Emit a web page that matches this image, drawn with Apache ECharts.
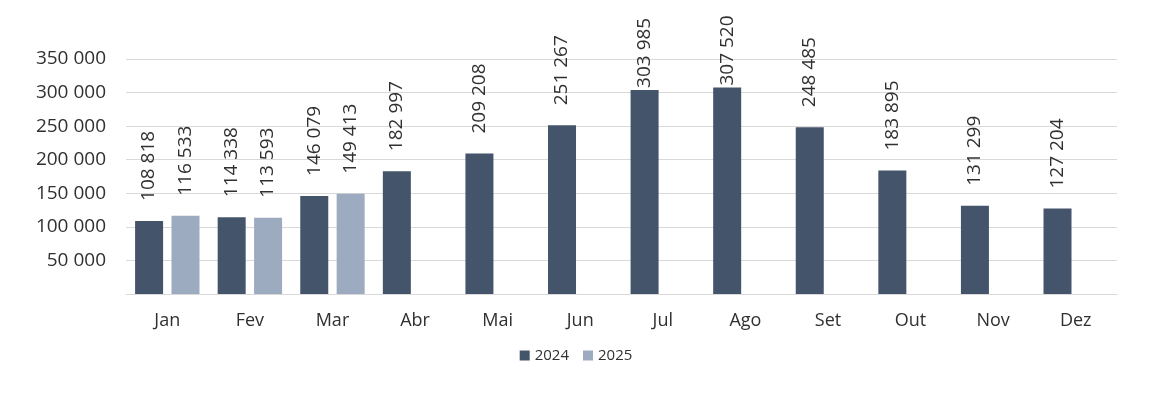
<!DOCTYPE html>
<html><head><meta charset="utf-8">
<script src="https://cdn.jsdelivr.net/npm/echarts@6/dist/echarts.min.js"></script>
<style>html,body{margin:0;padding:0;background:#fff}#c{width:1152px;height:394px}</style>
</head><body><div id="c"></div>
<script>
const categories = ['Jan','Fev','Mar','Abr','Mai','Jun','Jul','Ago','Set','Out','Nov','Dez'];
const values2024 = [108818,114338,146079,182997,209208,251267,303985,307520,248485,183895,131299,127204];
const values2025 = [116533,113593,149413,null,null,null,null,null,null,null,null,null];
const seriesNames = ['2024','2025'];

const fmt = v => String(v).replace(/\B(?=(\d{3})+(?!\d))/g, ' ');
const font = '"Open Sans", "Noto Sans", sans-serif';
const LABEL_SIZE = 19;
const LABEL_GAP = 20;
const TOP_LIMIT = 18;
const labelOpt = {
  show: true, position: 'top', rotate: 90, align: 'left', verticalAlign: 'middle',
  distance: LABEL_GAP, color: '#303030', fontSize: LABEL_SIZE, fontFamily: font,
  formatter: p => p.value == null ? '' : fmt(p.value)
};
const chart = echarts.init(document.getElementById('c'), null, {renderer: 'canvas'});
const option = {
  animation: false,
  grid: {left: 126, right: 35, top: 59, bottom: 100, containLabel: false},
  legend: {
    bottom: 26, left: 'center', itemWidth: 10, itemHeight: 10, itemGap: 14,
    textStyle: {color: '#303030', fontSize: 15, fontFamily: font},
    data: seriesNames.map(n => ({name: n, icon: 'rect'}))
  },
  xAxis: {
    type: 'category', data: categories,
    axisLine: {lineStyle: {color: '#d9d9d9', width: 1}},
    axisTick: {show: false},
    axisLabel: {color: '#303030', fontSize: 18, fontFamily: font, margin: 18}
  },
  yAxis: {
    type: 'value', min: 0, max: 350000, interval: 50000,
    axisLine: {show: false}, axisTick: {show: false},
    splitLine: {lineStyle: {color: '#d9d9d9', width: 1}},
    axisLabel: {color: '#303030', fontSize: 19, fontFamily: font, margin: 20,
      formatter: v => v === 0 ? '' : fmt(v)}
  },
  series: [
    {name: seriesNames[0], type: 'bar', data: values2024, barWidth: 28, barGap: '30%',
     itemStyle: {color: '#44546a'}, label: labelOpt},
    {name: seriesNames[1], type: 'bar', data: values2025, barWidth: 28, barGap: '30%',
     itemStyle: {color: '#9dabc0'}, label: labelOpt}
  ]
};
chart.setOption(option);

// keep rotated labels inside the chart area: shrink the gap when a label would cross the top
const ctx = document.createElement('canvas').getContext('2d');
ctx.font = LABEL_SIZE + 'px ' + font;
function fitData(values) {
  return values.map(v => {
    if (v == null) return v;
    const top = chart.convertToPixel({yAxisIndex: 0}, v);
    const len = ctx.measureText(fmt(v)).width;
    const room = top - len - TOP_LIMIT;
    if (room >= LABEL_GAP) return v;
    return {value: v, label: {distance: Math.max(2, room)}};
  });
}
chart.setOption({series: [{data: fitData(values2024)}, {data: fitData(values2025)}]});
</script></body></html>
